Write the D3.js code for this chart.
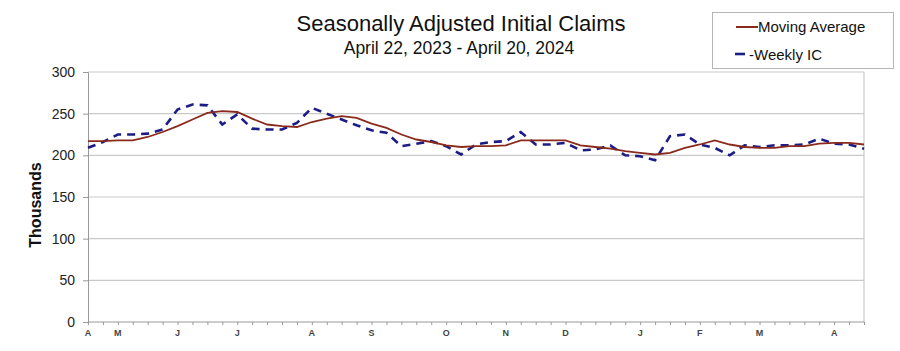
<!DOCTYPE html>
<html>
<head>
<meta charset="utf-8">
<script src="https://cdn.jsdelivr.net/npm/d3@7"></script>
<style>
  body { margin: 0; background: #fff; }
  svg { display: block; font-family: Arial, "Liberation Sans", sans-serif; }
</style>
</head>
<body>
<svg id="canvas"></svg>
<script>
let width = 900
let height = 351

// weekly data, Apr 22 2023 .. Apr 20 2024 (thousands)
let weeklyIC = [209, 216, 225, 225, 226, 231, 255, 261, 260, 237, 249, 232, 231, 231, 239, 257, 250, 243,
    236, 230, 227, 211, 214, 217, 211, 201, 213, 216, 217, 228, 213, 213, 215, 206, 207, 212, 200, 199,
    194, 223, 225, 213, 209, 200, 212, 210, 212, 212, 213, 220, 214, 213, 208]
let movingAvg = [217, 217, 218, 218, 222, 228, 235, 243, 251, 253, 252, 244, 237, 235, 234, 240, 244, 247,
    245, 238, 233, 225, 219, 216, 212, 210, 211, 211, 212, 218, 218, 218, 218, 212, 210, 208, 205, 203,
    201, 203, 209, 213, 218, 213, 210, 209, 209, 211, 211, 214, 215, 215, 213]
// month labels and the week index they sit on
let monthLabels = ['A', 'M', 'J', 'J', 'A', 'S', 'O', 'N', 'D', 'J', 'F', 'M', 'A']
let monthWeeks = [0, 2, 6, 10, 15, 19, 24, 28, 32, 37, 41, 45, 50]
let yTicks = [0, 50, 100, 150, 200, 250, 300]

let plotLeft = 88
let plotRight = 864
let plotTop = 72
let plotBottom = 322

let canvas = d3.select('#canvas')
    .attr('width', width)
    .attr('height', height)

let xScale = d3.scaleLinear()
    .domain([0, weeklyIC.length - 1])
    .range([plotLeft, plotRight])
let yScale = d3.scaleLinear()
    .domain([0, 300])
    .range([plotBottom, plotTop])

// gridlines
canvas.append('g')
    .selectAll('line')
    .data(yTicks.filter(d => d > 0))
    .enter()
    .append('line')
    .attr('x1', plotLeft)
    .attr('x2', plotRight)
    .attr('y1', d => yScale(d))
    .attr('y2', d => yScale(d))
    .attr('stroke', '#c9c9c9')
    .attr('stroke-width', 1.2)

// right frame
canvas.append('line')
    .attr('x1', plotRight).attr('x2', plotRight)
    .attr('y1', plotTop).attr('y2', plotBottom)
    .attr('stroke', '#c9c9c9')
    .attr('stroke-width', 1.2)

// y axis
let yAxis = d3.axisLeft(yScale)
    .tickValues(yTicks)
    .tickSize(5)
    .tickPadding(8)
let yg = canvas.append('g')
    .attr('transform', 'translate(' + plotLeft + ',0)')
    .call(yAxis)
yg.select('.domain').attr('stroke', '#999')
yg.selectAll('.tick line').attr('stroke', '#999')
yg.selectAll('.tick text')
    .attr('font-size', 14)
    .attr('fill', '#222')
    .attr('font-family', 'Arial, "Liberation Sans", sans-serif')

// x axis: tick every week, month letters
let xAxis = d3.axisBottom(xScale)
    .tickValues(d3.range(weeklyIC.length))
    .tickSize(3)
    .tickFormat('')
let xg = canvas.append('g')
    .attr('transform', 'translate(0,' + plotBottom + ')')
    .call(xAxis)
xg.select('.domain').attr('stroke', '#999').attr('d', 'M' + plotLeft + ',0H' + plotRight)
xg.selectAll('.tick line').attr('stroke', '#999')

canvas.append('g')
    .selectAll('text')
    .data(monthLabels)
    .enter()
    .append('text')
    .attr('x', (d, i) => xScale(monthWeeks[i]))
    .attr('y', plotBottom + 14)
    .attr('text-anchor', 'middle')
    .attr('font-size', 9)
    .attr('font-weight', 'bold')
    .attr('fill', '#444')
    .text(d => d)

// lines
let line = d3.line()
    .x((d, i) => xScale(i))
    .y(d => yScale(d))

canvas.append('path')
    .datum(weeklyIC)
    .attr('d', line)
    .attr('fill', 'none')
    .attr('stroke', '#1c1c86')
    .attr('stroke-width', 2.6)
    .attr('stroke-dasharray', '8,6')

canvas.append('path')
    .datum(movingAvg)
    .attr('d', line)
    .attr('fill', 'none')
    .attr('stroke', '#8a2a1c')
    .attr('stroke-width', 1.8)

// titles
canvas.append('text')
    .attr('x', 461)
    .attr('y', 31)
    .attr('text-anchor', 'middle')
    .attr('font-size', 22)
    .attr('fill', '#111')
    .text('Seasonally Adjusted Initial Claims')
canvas.append('text')
    .attr('x', 459)
    .attr('y', 53.5)
    .attr('text-anchor', 'middle')
    .attr('font-size', 17.5)
    .attr('fill', '#111')
    .text('April 22, 2023 - April 20, 2024')

canvas.append('text')
    .attr('transform', 'translate(41,205) rotate(-90)')
    .attr('text-anchor', 'middle')
    .attr('font-size', 16)
    .attr('font-weight', 'bold')
    .attr('fill', '#111')
    .text('Thousands')

// legend
let legend = canvas.append('g')
legend.append('rect')
    .attr('x', 712.5).attr('y', 12.5)
    .attr('width', 181).attr('height', 56)
    .attr('fill', '#fff')
    .attr('stroke', '#b5b5b5')
legend.append('line')
    .attr('x1', 736).attr('x2', 758)
    .attr('y1', 27).attr('y2', 27)
    .attr('stroke', '#8a2a1c')
    .attr('stroke-width', 2)
legend.append('text')
    .attr('x', 758).attr('y', 32)
    .attr('font-size', 15)
    .attr('fill', '#111')
    .text('Moving Average')
legend.append('line')
    .attr('x1', 735).attr('x2', 745)
    .attr('y1', 54).attr('y2', 54)
    .attr('stroke', '#1c1c86')
    .attr('stroke-width', 2.6)
legend.append('text')
    .attr('x', 749).attr('y', 59.5)
    .attr('font-size', 15)
    .attr('fill', '#111')
    .text('-Weekly IC')
</script>
</body>
</html>
